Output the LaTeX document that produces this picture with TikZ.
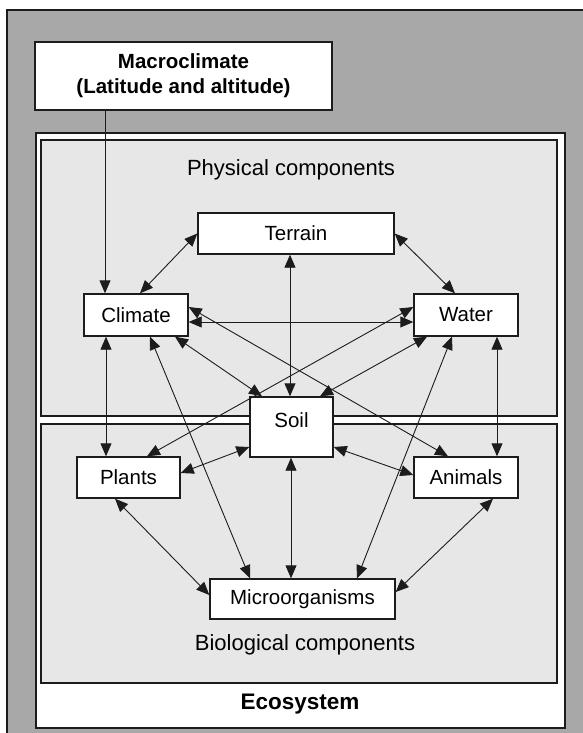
\documentclass[tikz,border=0pt]{standalone}
\usepackage{fontspec}
\setmainfont{Liberation Sans}
\usetikzlibrary{arrows.meta,calc}
\definecolor{framegray}{RGB}{168,168,168}
\definecolor{panelgray}{RGB}{231,231,231}
\definecolor{inkdark}{RGB}{28,28,28}
\begin{document}
\begin{tikzpicture}[x=1pt,y=-1pt,
  box/.style={draw=inkdark,line width=1.4pt,fill=white,inner sep=0pt,
    font=\fontsize{20.5}{24}\selectfont},
  link/.style={draw=inkdark,line width=0.9pt,
    {Triangle[length=13pt,width=11pt]}-{Triangle[length=13pt,width=11pt]}},
  feed/.style={draw=inkdark,line width=0.9pt,-{Triangle[length=13pt,width=11pt]}},
  panel/.style={draw=inkdark,line width=1.8pt},
  caption/.style={font=\fontsize{22}{26}\selectfont}]

\useasboundingbox (0,0) rectangle (583,733);
\clip (0,0) rectangle (583,733);

% frames and component panels
\draw[panel,fill=framegray] (7,10) rectangle (600,750);
\draw[panel,fill=white] (36,133) rectangle (565,728);
\draw[panel,fill=panelgray] (41,140) rectangle (557,416);
\draw[panel,fill=panelgray] (41,424) rectangle (557,683);

\node[caption] (phys) at (291,170) {Physical components};
\node[caption] (bio) at (305,645) {Biological components};
\node[font=\bfseries\fontsize{22.5}{26}\selectfont] (eco) at (300,704) {Ecosystem};

% component boxes
\node[box,font=\bfseries\fontsize{20.5}{25}\selectfont,align=center,
  minimum width=297,minimum height=68] (macro) at (183.5,76)
  {Macroclimate\\(Latitude and altitude)};
\node[box,minimum width=196,minimum height=41] (terrain) at (296,233.5) {Terrain};
\node[box,minimum width=104,minimum height=42] (climate) at (136,315) {Climate};
\node[box,minimum width=104,minimum height=42] (water) at (466,315) {Water};
\node[box,minimum width=83,minimum height=60,text depth=14pt] (soil) at (291.5,427) {Soil};
\node[box,minimum width=103,minimum height=41] (plants) at (128.5,477.5) {Plants};
\node[box,minimum width=104,minimum height=41] (animals) at (466,477.5) {Animals};
\node[box,minimum width=185,minimum height=40] (micro) at (302.5,599) {Microorganisms};

% macroclimate acting on climate
\coordinate (cin) at ([xshift=-31pt]climate.north);
\draw[feed] (macro.south -| cin) -- (cin);

% physical interactions
\draw[link] ([xshift=4pt]climate.north) -- (terrain.west);
\draw[link] (terrain.east) -- ([xshift=-11pt]water.north);
\draw[link] (soil.north -| 290,0) -- (terrain.south -| 290,0);
\draw[link] ([yshift=-7pt]climate.east) -- ([yshift=-7pt]water.west);
\draw[link] ([xshift=39pt]climate.south) -- ([xshift=-29.5pt]soil.north);
\draw[link] ([xshift=-39pt]water.south) -- ([xshift=28.5pt]soil.north);

% physical--biological interactions
\draw[link] ([yshift=8pt]climate.east) -- ([xshift=-18pt]animals.north);
\draw[link] ([yshift=8pt]water.west) -- ([xshift=18.5pt]plants.north);
\coordinate (cpl) at ([xshift=-30pt]climate.south);
\draw[link] (cpl) -- (plants.north -| cpl);
\coordinate (wan) at ([xshift=31pt]water.south);
\draw[link] (wan) -- (animals.north -| wan);
\draw[link] ([xshift=14pt]climate.south) -- ([xshift=-52.5pt]micro.north);
\draw[link] ([xshift=-14pt]water.south) -- ([xshift=54.5pt]micro.north);
\draw[link] ([yshift=-20pt]soil.west) -- ([yshift=4.5pt]plants.east);
\draw[link] ([yshift=-20pt]soil.east) -- ([yshift=2.5pt]animals.west);
\draw[link] (soil.south -| 291,0) -- (micro.north -| 291,0);

% biological interactions
\draw[link] ([xshift=-13.5pt]plants.south) -- ([yshift=4pt]micro.west);
\draw[link] ([xshift=27pt]animals.south) -- ([yshift=7pt]micro.east);
\end{tikzpicture}
\end{document}
